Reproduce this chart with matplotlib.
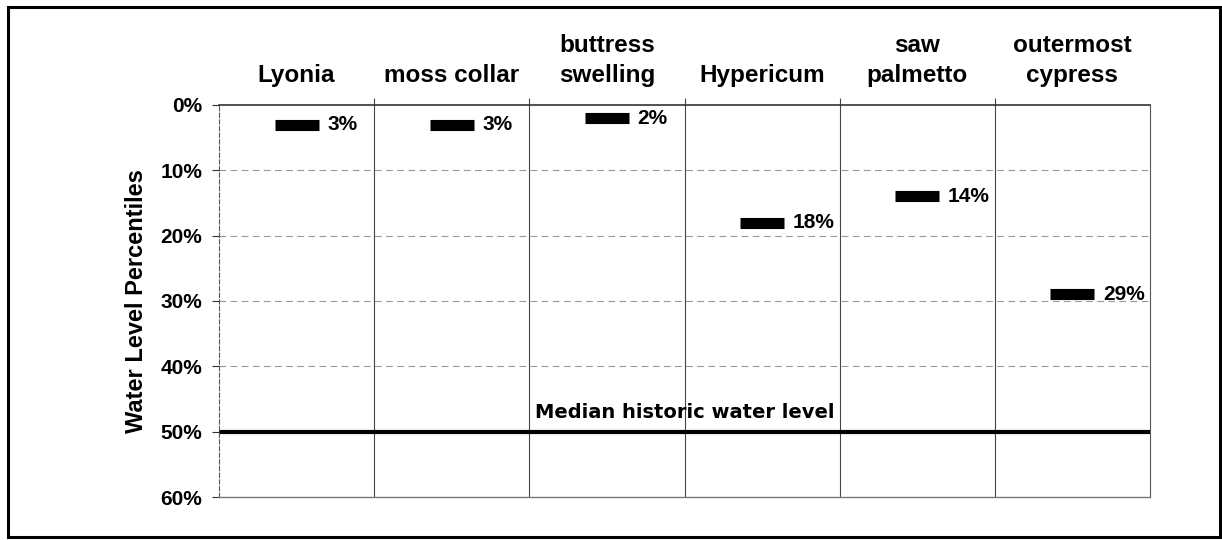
import matplotlib.pyplot as plt
from matplotlib.patches import Rectangle

############### DATA ###############
categories = ['Lyonia', 'moss collar', 'buttress\nswelling', 'Hypericum',
              'saw\npalmetto', 'outermost\ncypress']
percentiles = [3, 3, 2, 18, 14, 29]
median_level = 50
y_ticks = [0, 10, 20, 30, 40, 50, 60]

plt.rcParams['font.family'] = ['Liberation Sans', 'DejaVu Sans']

fig = plt.figure(figsize=(12.22, 5.4), dpi=100)
ax = fig.add_axes([0.1792, 0.0796, 0.7619, 0.726])

x = list(range(len(categories)))

############### GRID / REFERENCE LINES ###############
for t in y_ticks[1:-1]:
    if t != median_level:
        ax.axhline(t, color='#999999', lw=0.8, ls=(0, (6, 4)), zorder=1)
for b in range(1, len(categories)):
    ax.axvline(b - 0.5, color='#444444', lw=0.8, zorder=1)
ax.axhline(median_level, color='black', lw=3, zorder=2)
ax.text(2.5, median_level - 1.5, 'Median historic water level', ha='center', va='bottom',
        fontsize=14, fontweight='heavy', family='DejaVu Sans', zorder=3)

############### MARKERS ###############
ax.plot(x, percentiles, ls='none', marker='_', markersize=31, mew=8,
        color='black', zorder=4)
for xi, v in zip(x, percentiles):
    ax.annotate(f'{v}%', (xi, v), xytext=(22, 0), textcoords='offset points',
                ha='left', va='center', fontsize=15, fontweight='bold')

############### AXES ###############
ax.set_xlim(-0.5, len(categories) - 0.5)
ax.set_ylim(60, 0)
ax.set_yticks(y_ticks)
ax.set_yticklabels([f'{t}%' for t in y_ticks], fontsize=15, fontweight='bold')
ax.tick_params(axis='y', length=5, width=0.8, pad=7, color='#333333')

ax.xaxis.tick_top()
ax.set_xticks([b - 0.5 for b in range(1, len(categories))])
ax.set_xticklabels([])
ax.tick_params(axis='x', which='major', length=5, width=0.8, color='#444444')
ax.set_xticks(x, minor=True)
ax.set_xticklabels(categories, minor=True, fontsize=17.5, fontweight='bold',
                   linespacing=1.4)
ax.tick_params(axis='x', which='minor', length=0, pad=13)

ax.set_ylabel('Water Level Percentiles', fontsize=17, fontweight='bold', labelpad=9)

ax.spines['top'].set_color('#333333')
ax.spines['top'].set_linewidth(1.2)
ax.spines['left'].set_color('#555555')
ax.spines['left'].set_linestyle((0, (4, 2)))
ax.spines['right'].set_color('#555555')
ax.spines['right'].set_linewidth(0.8)
ax.spines['bottom'].set_color('#777777')
ax.spines['bottom'].set_linewidth(1.0)

############### FIGURE BORDER ###############
fig.patches.append(Rectangle((8 / 1222, 3 / 540), 1212 / 1222, 530 / 540,
                             transform=fig.transFigure, fill=False,
                             edgecolor='black', lw=2.2))

fig.savefig('out.png', dpi=100)
